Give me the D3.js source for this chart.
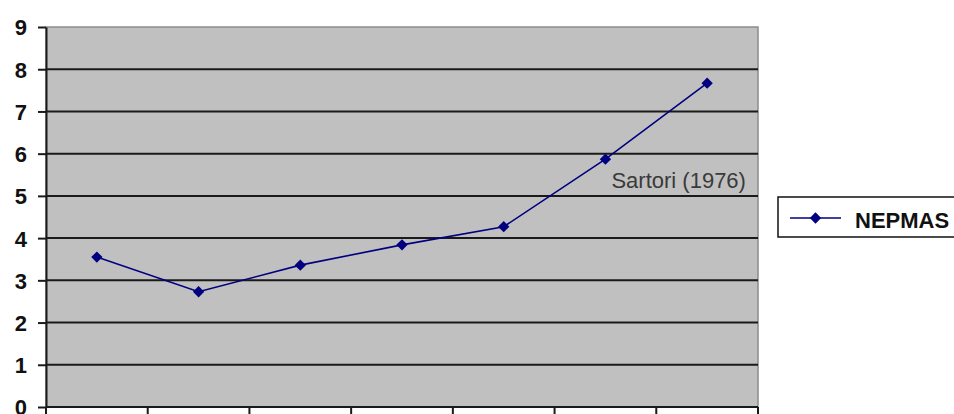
<!DOCTYPE html>
<html>
<head>
<meta charset="utf-8">
<script src="https://cdn.jsdelivr.net/npm/d3@7"></script>
<style>
  html, body { margin: 0; padding: 0; background: #fff; }
  svg { display: block; }
</style>
</head>
<body>
<svg id="chart" width="954" height="414"></svg>
<script>
// Series data
const categories = ["1", "2", "3", "4", "5", "6", "7"];
const nepmas = [3.55, 2.73, 3.36, 3.84, 4.27, 5.87, 7.67];
const seriesName = "NEPMAS";
const yTicks = [0, 1, 2, 3, 4, 5, 6, 7, 8, 9];
const annotation = { index: 5, text: "Sartori (1976)" };

const svg = d3.select("#chart");
const plot = { left: 46, right: 758, top: 27, bottom: 407 };

const x = d3.scaleBand().domain(categories).range([plot.left, plot.right]);
const y = d3.scaleLinear().domain([0, 9]).range([plot.bottom, plot.top]);

// Plot background
svg.append("rect")
  .attr("x", plot.left).attr("y", plot.top)
  .attr("width", plot.right - plot.left).attr("height", plot.bottom - plot.top)
  .attr("fill", "#c0c0c0")
  .attr("stroke", "#8c8c8c").attr("stroke-width", 1.5);

// Horizontal gridlines
svg.append("g")
  .selectAll("line")
  .data(yTicks.filter(d => d > 0 && d < 9))
  .join("line")
  .attr("x1", plot.left).attr("x2", plot.right)
  .attr("y1", d => y(d)).attr("y2", d => y(d))
  .attr("stroke", "#1a1a1a").attr("stroke-width", 2);

// Y axis
const yAxis = svg.append("g")
  .attr("transform", `translate(${plot.left},0)`)
  .call(d3.axisLeft(y).tickValues(yTicks).tickSize(8).tickPadding(11).tickSizeOuter(0));
yAxis.select(".domain").attr("stroke", "#1a1a1a").attr("stroke-width", 2);
yAxis.selectAll(".tick line").attr("stroke", "#1a1a1a").attr("stroke-width", 2);
yAxis.selectAll(".tick text")
  .attr("font-family", "Liberation Sans, Arial, sans-serif")
  .attr("font-weight", "bold")
  .attr("font-size", 22)
  .attr("dy", "0.36em")
  .attr("fill", "#111");

// X axis with ticks between categories
const xBounds = categories.map(c => x(c)).concat([x(categories[categories.length - 1]) + x.bandwidth()]);
const xg = svg.append("g");
xg.append("line")
  .attr("x1", plot.left).attr("x2", plot.right)
  .attr("y1", plot.bottom).attr("y2", plot.bottom)
  .attr("stroke", "#1a1a1a").attr("stroke-width", 2);
xg.selectAll("line.tick")
  .data(xBounds)
  .join("line")
  .attr("class", "tick")
  .attr("x1", d => d).attr("x2", d => d)
  .attr("y1", plot.bottom).attr("y2", plot.bottom + 9)
  .attr("stroke", "#1a1a1a").attr("stroke-width", 2);

// Series line
const cx = (d, i) => x(categories[i]) + x.bandwidth() / 2;
const line = d3.line().x((d, i) => cx(d, i)).y(d => y(d));
svg.append("path")
  .datum(nepmas)
  .attr("d", line)
  .attr("fill", "none")
  .attr("stroke", "#000080")
  .attr("stroke-width", 1.6);

// Diamond marker: a square turned 45 degrees
const diamond = d3.symbol().type(d3.symbolSquare).size(64);
svg.append("g")
  .selectAll("path")
  .data(nepmas)
  .join("path")
  .attr("transform", (d, i) => `translate(${cx(d, i)},${y(d)}) rotate(45)`)
  .attr("d", diamond)
  .attr("fill", "#000080");

// Annotation under a point
const ai = annotation.index;
svg.append("text")
  .attr("x", cx(nepmas[ai], ai) + 6)
  .attr("y", y(nepmas[ai]) + 29)
  .attr("font-family", "Liberation Sans, Arial, sans-serif")
  .attr("font-size", 22)
  .attr("fill", "#3a3a3a")
  .text(annotation.text);

// Legend
const lg = svg.append("g");
lg.append("rect")
  .attr("x", 778).attr("y", 197)
  .attr("width", 190).attr("height", 40)
  .attr("fill", "#fff")
  .attr("stroke", "#111").attr("stroke-width", 1.5);
lg.append("line")
  .attr("x1", 790).attr("x2", 841)
  .attr("y1", 218).attr("y2", 218)
  .attr("stroke", "#000080").attr("stroke-width", 1.6);
lg.append("path")
  .attr("transform", "translate(815.5,218) rotate(45)")
  .attr("d", diamond)
  .attr("fill", "#000080");
lg.append("text")
  .attr("x", 855).attr("y", 228)
  .attr("font-family", "Liberation Sans, Arial, sans-serif")
  .attr("font-weight", "bold")
  .attr("font-size", 22)
  .attr("fill", "#111")
  .text(seriesName);
</script>
</body>
</html>
